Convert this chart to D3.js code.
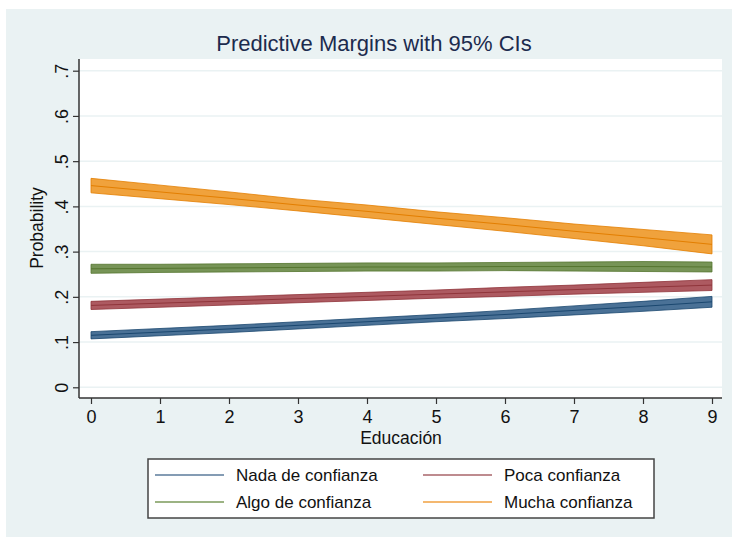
<!DOCTYPE html>
<html lang="es">
<head>
<meta charset="utf-8">
<script src="https://cdn.jsdelivr.net/npm/d3@7"></script>
<style>
  body { margin: 0; background: #fff; }
  svg { display: block; font-family: 'Liberation Sans', Arial, sans-serif; }
  .tick text { fill: #111; }
</style>
</head>
<body>
<div id="chart"></div>
<script>
var width = 732, height = 537;

// Educacion values on the x axis
var educ = [0, 1, 2, 3, 4, 5, 6, 7, 8, 9];
var seriesNames = ["Nada de confianza", "Poca confianza", "Algo de confianza", "Mucha confianza"];

// predicted probabilities and 95% CI bounds
var nadaMargin = [0.115, 0.122, 0.129, 0.137, 0.145, 0.153, 0.161, 0.170, 0.179, 0.189];
var nadaLo     = [0.107, 0.114, 0.121, 0.129, 0.137, 0.145, 0.152, 0.160, 0.168, 0.177];
var nadaHi     = [0.123, 0.130, 0.137, 0.145, 0.153, 0.161, 0.170, 0.180, 0.190, 0.201];

var pocaMargin = [0.181, 0.186, 0.191, 0.196, 0.201, 0.206, 0.211, 0.216, 0.221, 0.226];
var pocaLo     = [0.172, 0.177, 0.182, 0.187, 0.192, 0.197, 0.201, 0.206, 0.210, 0.214];
var pocaHi     = [0.190, 0.195, 0.200, 0.205, 0.210, 0.215, 0.221, 0.226, 0.232, 0.238];

var algoMargin = [0.262, 0.263, 0.264, 0.265, 0.266, 0.266, 0.267, 0.267, 0.267, 0.266];
var algoLo     = [0.252, 0.254, 0.255, 0.256, 0.257, 0.257, 0.258, 0.257, 0.256, 0.255];
var algoHi     = [0.272, 0.272, 0.273, 0.274, 0.275, 0.275, 0.276, 0.277, 0.278, 0.277];

var muchaMargin = [0.446, 0.432, 0.418, 0.403, 0.389, 0.374, 0.360, 0.345, 0.331, 0.316];
var muchaLo     = [0.430, 0.417, 0.404, 0.390, 0.375, 0.360, 0.345, 0.329, 0.313, 0.295];
var muchaHi     = [0.462, 0.447, 0.432, 0.416, 0.403, 0.388, 0.375, 0.361, 0.349, 0.337];

var yTicks = [0, 0.1, 0.2, 0.3, 0.4, 0.5, 0.6, 0.7];
var yTickLabels = ["0", ".1", ".2", ".3", ".4", ".5", ".6", ".7"];

var series = [
  { name: seriesNames[0], m: nadaMargin,  lo: nadaLo,  hi: nadaHi,  line: "#1a476f", fill: "#4a7196", key: "#5b7b9b" },
  { name: seriesNames[1], m: pocaMargin,  lo: pocaLo,  hi: pocaHi,  line: "#90353b", fill: "#ad5a61", key: "#a8646a" },
  { name: seriesNames[2], m: algoMargin,  lo: algoLo,  hi: algoHi,  line: "#55752f", fill: "#779457", key: "#7b9a5a" },
  { name: seriesNames[3], m: muchaMargin, lo: muchaLo, hi: muchaHi, line: "#e37e00", fill: "#f0a23c", key: "#f0a040" }
];

var plot = { left: 79, right: 722, top: 59, bottom: 398 };

var x = d3.scaleLinear().domain([0, 9]).range([91, 712]);
var y = d3.scaleLinear().domain([0, 0.7]).range([387.3, 70.7]);

var svg = d3.select("#chart").append("svg")
  .attr("width", width)
  .attr("height", height);

// outer graph region
svg.append("rect")
  .attr("x", 6).attr("y", 9)
  .attr("width", width - 6).attr("height", height - 9)
  .attr("fill", "#eaf2f3");

svg.append("rect")
  .attr("x", plot.left).attr("y", plot.top)
  .attr("width", plot.right - plot.left).attr("height", plot.bottom - plot.top)
  .attr("fill", "#fff");

// gridlines
svg.append("g").selectAll("line")
  .data(yTicks)
  .enter().append("line")
  .attr("x1", plot.left).attr("x2", plot.right)
  .attr("y1", function(d) { return y(d); })
  .attr("y2", function(d) { return y(d); })
  .attr("stroke", "#eaf2f3")
  .attr("stroke-width", 1.5);

// bands and margin lines
var area = d3.area()
  .x(function(d) { return x(d.x); })
  .y0(function(d) { return y(d.lo); })
  .y1(function(d) { return y(d.hi); });

var line = d3.line()
  .x(function(d) { return x(d.x); })
  .y(function(d) { return y(d.v); });

series.forEach(function(s) {
  var pts = educ.map(function(e, i) { return { x: e, lo: s.lo[i], hi: s.hi[i], v: s.m[i] }; });
  var g = svg.append("g");
  g.append("path")
    .datum(pts)
    .attr("d", area)
    .attr("fill", s.fill)
    .attr("stroke", s.line)
    .attr("stroke-width", 1)
    .attr("stroke-opacity", 0.8);
  g.append("path")
    .datum(pts)
    .attr("d", line)
    .attr("fill", "none")
    .attr("stroke", s.line)
    .attr("stroke-width", 1);
});

// axes
var yAxis = d3.axisLeft(y)
  .tickValues(yTicks)
  .tickFormat(function(d, i) { return yTickLabels[i]; })
  .tickSize(6)
  .tickPadding(0);

var yg = svg.append("g")
  .attr("transform", "translate(" + plot.left + ",0)")
  .call(yAxis);
yg.select(".domain").remove();
yg.selectAll(".tick line").attr("stroke", "#333").attr("stroke-width", 1.2);
yg.selectAll(".tick text")
  .attr("x", null).attr("dy", null)
  .attr("transform", "translate(-17,0) rotate(-90)")
  .attr("text-anchor", "middle")
  .attr("dy", "0.35em")
  .style("font-size", "18px");

var xAxis = d3.axisBottom(x)
  .tickValues(educ)
  .tickFormat(d3.format("d"))
  .tickSize(6)
  .tickPadding(6);

var xg = svg.append("g")
  .attr("transform", "translate(0," + plot.bottom + ")")
  .call(xAxis);
xg.select(".domain").remove();
xg.selectAll(".tick line").attr("stroke", "#333").attr("stroke-width", 1.2);
xg.selectAll(".tick text").style("font-size", "18px");

svg.append("line")
  .attr("x1", plot.left).attr("x2", plot.left)
  .attr("y1", plot.top).attr("y2", plot.bottom)
  .attr("stroke", "#333").attr("stroke-width", 1.5);
svg.append("line")
  .attr("x1", plot.left).attr("x2", plot.right)
  .attr("y1", plot.bottom).attr("y2", plot.bottom)
  .attr("stroke", "#333").attr("stroke-width", 1.5);

// titles
svg.append("text")
  .attr("x", 374).attr("y", 51)
  .attr("text-anchor", "middle")
  .attr("fill", "#1c2b4e")
  .style("font-size", "22px")
  .text("Predictive Margins with 95% CIs");

svg.append("text")
  .attr("x", 401).attr("y", 444)
  .attr("text-anchor", "middle")
  .attr("fill", "#111")
  .style("font-size", "17.5px")
  .text("Educación");

svg.append("text")
  .attr("transform", "translate(43,228) rotate(-90)")
  .attr("text-anchor", "middle")
  .attr("fill", "#111")
  .style("font-size", "17.5px")
  .text("Probability");

// legend
var legend = svg.append("g");
legend.append("rect")
  .attr("x", 148).attr("y", 459)
  .attr("width", 506).attr("height", 59)
  .attr("fill", "#fff")
  .attr("stroke", "#444")
  .attr("stroke-width", 1.5);

var legX = [155, 423], legY = [475, 502];
series.forEach(function(s, i) {
  var cx = legX[i % 2], cy = legY[Math.floor(i / 2)];
  legend.append("line")
    .attr("x1", cx).attr("x2", cx + 69)
    .attr("y1", cy).attr("y2", cy)
    .attr("stroke", s.key).attr("stroke-width", 1.5);
  legend.append("text")
    .attr("x", cx + 81).attr("y", cy)
    .attr("dy", "0.35em")
    .attr("fill", "#111")
    .style("font-size", "17px")
    .text(s.name);
});
</script>
</body>
</html>
